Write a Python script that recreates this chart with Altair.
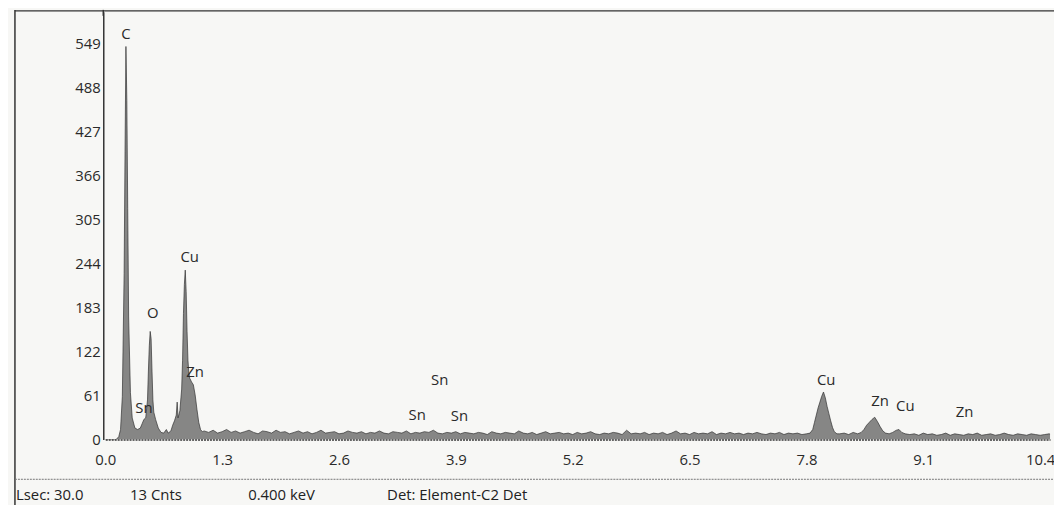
import altair as alt
import pandas as pd

# ---- spectrum data ----
low_kev = [0.00, 0.12, 0.15, 0.17, 0.19, 0.21, 0.22, 0.23, 0.24, 0.25, 0.26, 0.28, 0.30, 0.33,
           0.36, 0.39, 0.41, 0.43, 0.45, 0.47, 0.48, 0.49, 0.50, 0.51, 0.52, 0.53, 0.54, 0.56,
           0.59, 0.62, 0.65, 0.68, 0.70, 0.73, 0.75, 0.77, 0.79, 0.80, 0.81, 0.83, 0.85, 0.86,
           0.87, 0.88, 0.89, 0.90, 0.91, 0.92, 0.93, 0.94, 0.96, 0.98, 1.00, 1.02, 1.04, 1.06, 1.08]
low_counts = [0, 0, 4, 14, 60, 230, 400, 545, 470, 320, 170, 65, 30, 16,
              14, 16, 22, 28, 30, 55, 95, 130, 150, 140, 95, 55, 38, 28,
              16, 10, 9, 14, 9, 12, 20, 26, 34, 52, 30, 40, 70, 110,
              175, 215, 235, 205, 150, 110, 92, 85, 80, 76, 62, 42, 24, 14, 11]

# background channels from 1.10 keV every 0.05 keV
mid_start = 1.10
mid_step = 0.05
mid_counts = [12, 10, 13, 9, 11, 14, 10, 12, 9, 11, 13, 10, 8, 12, 11, 9, 13, 10, 11, 8,
              10, 12, 9, 11, 8, 10, 13, 9, 10, 11, 8, 9, 12, 10, 9, 11, 8, 10, 9, 12,
              9, 8, 11, 10, 9, 12, 8, 10, 9, 11, 10, 13, 9, 8, 10, 9, 11, 8, 10, 9,
              8, 10, 9, 7, 11, 9, 8, 10, 9, 8, 12, 9, 8, 10, 7, 9, 11, 8, 9, 10,
              8, 9, 7, 10, 8, 9, 11, 8, 7, 9, 8, 10, 9, 7, 13, 8, 9, 8, 10, 7,
              9, 8, 10, 7, 9, 12, 8, 9, 7, 10, 8, 9, 8, 11, 7, 9, 8, 10, 8, 9,
              7, 9, 8, 10, 8, 7, 9, 8, 10, 7, 9, 8, 9, 7, 8]

cuk_kev = [7.84, 7.87, 7.89, 7.91, 7.93, 7.95, 7.97, 7.99, 8.01, 8.03, 8.05, 8.07, 8.09, 8.11, 8.14,
           8.17, 8.22, 8.27, 8.32, 8.37]
cuk_counts = [9, 14, 24, 34, 44, 52, 60, 66, 58, 46, 36, 26, 17, 11, 8,
              8, 9, 7, 10, 8]

znk_kev = [8.41, 8.44, 8.47, 8.50, 8.53, 8.56, 8.59, 8.62, 8.65, 8.68,
           8.72, 8.76, 8.80, 8.83, 8.86, 8.90]
znk_counts = [10, 14, 20, 24, 28, 31, 25, 18, 12, 9,
              8, 10, 13, 14, 10, 8]

high_start = 8.95
high_step = 0.05
high_counts = [7, 8, 6, 9, 7, 8, 6, 7, 9, 6, 8, 7, 6, 8, 7, 9, 6, 7, 8, 6, 7, 9, 7, 6,
               8, 7, 6, 8, 7, 6, 7, 8, 6]

# ---- peak labels ----
label_names = ["C", "O", "Cu", "Zn", "Sn", "Sn", "Sn", "Sn", "Cu", "Zn", "Cu", "Zn"]
label_kev = [0.23, 0.53, 0.94, 1.00, 0.43, 3.72, 3.47, 3.94, 8.02, 8.62, 8.90, 9.56]
label_counts = [562, 176, 253, 94, 44, 82, 34, 32, 82, 53, 47, 38]

# ---- axis ticks ----
x_ticks = [0.0, 1.3, 2.6, 3.9, 5.2, 6.5, 7.8, 9.1, 10.4]
y_ticks = [0, 61, 122, 183, 244, 305, 366, 427, 488, 549]

# ---- footer ----
footer_texts = ["Lsec: 30.0", "13 Cnts", "0.400 keV", "Det: Element-C2 Det"]

# ---- build tables ----
mid_kev = [round(mid_start + mid_step * i, 2) for i in range(len(mid_counts))]
high_kev = [round(high_start + high_step * i, 2) for i in range(len(high_counts))]
spec = pd.DataFrame({
    "kev": low_kev + mid_kev + cuk_kev + znk_kev + high_kev,
    "counts": low_counts + mid_counts + cuk_counts + znk_counts + high_counts,
})
labels = pd.DataFrame({"name": label_names, "kev": label_kev, "counts": label_counts})

FONT = "Open Sans"
FS = 15
W = 952
H = 431
x_scale = alt.Scale(domain=[0, 10.51], nice=False, zero=False)
y_scale = alt.Scale(domain=[0, 593], nice=False)

area = alt.Chart(spec).mark_area(
    color="#555555", interpolate="linear", clip=True,
    line={"color": "#333333", "strokeWidth": 0.7},
).encode(
    x=alt.X("kev:Q", scale=x_scale, axis=alt.Axis(
        values=x_ticks, format=".1f", title=None, grid=False, ticks=False,
        labelPadding=13, labelFontSize=FS, labelFont=FONT, labelColor="#2a2a2a",
        domainColor="#666", domainWidth=2, domainDash=[2, 1], labelFlush=False)),
    y=alt.Y("counts:Q", scale=y_scale, axis=alt.Axis(
        values=y_ticks, title=None, grid=False, ticks=False, offset=2,
        labelPadding=3, labelFontSize=FS, labelFont=FONT, labelColor="#2a2a2a",
        domainColor="#333", domainWidth=1.5)),
)

text = alt.Chart(labels).mark_text(
    font=FONT, fontSize=FS, color="#2a2a2a", align="center", baseline="middle"
).encode(x=alt.X("kev:Q", scale=x_scale), y=alt.Y("counts:Q", scale=y_scale), text="name:N")

one = pd.DataFrame({"k": [0]})
left_border = alt.Chart(one).mark_rule(color="#333", strokeWidth=1.5).encode(
    x=alt.value(-91), y=alt.value(-2), y2=alt.value(H + 66))
top_border = alt.Chart(one).mark_rule(color="#333", strokeWidth=1.5).encode(
    x=alt.value(-91), x2=alt.value(W + 4), y=alt.value(-1))
yaxis_top = alt.Chart(one).mark_rule(color="#333", strokeWidth=1.5).encode(
    x=alt.value(-2), y=alt.value(-2), y2=alt.value(4))
bottom_dash = alt.Chart(one).mark_rule(color="#777", strokeWidth=1, strokeDash=[2, 1]).encode(
    x=alt.value(-91), x2=alt.value(W + 4), y=alt.value(H + 40))

footer_x = [-90, 25, 144, 284]
footers = [
    alt.Chart(one).mark_text(text=t, font=FONT, fontSize=FS, color="#222",
                             align="left", baseline="middle").encode(
        x=alt.value(fx), y=alt.value(H + 56))
    for t, fx in zip(footer_texts, footer_x)
]

chart = alt.layer(area, text, left_border, top_border, yaxis_top, bottom_dash, *footers).properties(
    width=W, height=H,
    autosize=alt.AutoSizeParams(type="none"),
    padding={"left": 98, "top": 2, "right": 4, "bottom": 64},
    background="#f7f7f5",
).configure_view(stroke=None)

chart.save("out.html", embed_options={"renderer": "svg", "actions": False})
